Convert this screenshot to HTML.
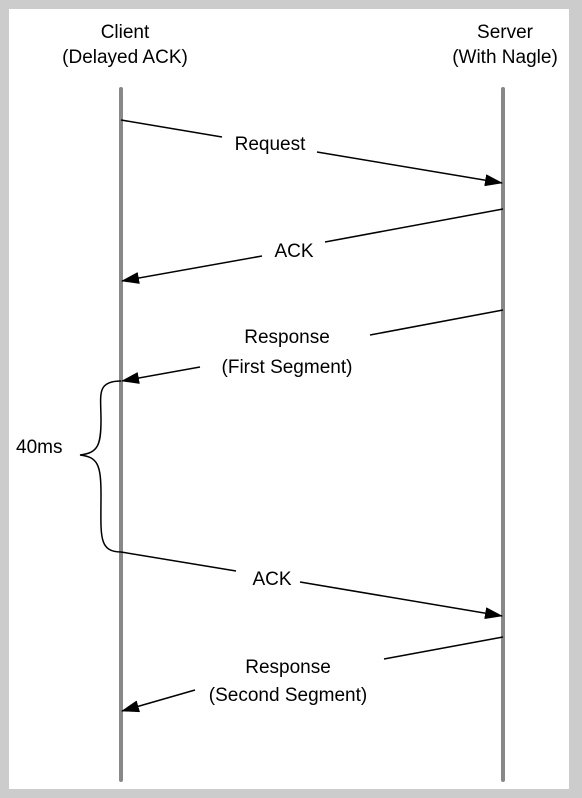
<!DOCTYPE html>
<html><head><style>
html,body{margin:0;padding:0;background:#ccc;}
body{width:582px;height:798px;position:relative;overflow:hidden;font-family:"Liberation Sans",Arial,sans-serif;}
.page{position:absolute;left:9px;top:9px;width:560px;height:780px;background:#fff;}
</style></head><body>
<div class="page"></div>
<svg width="582" height="798" style="position:absolute;left:0;top:0" font-family="Liberation Sans, Arial, sans-serif" font-size="19" fill="#000">
<defs><marker id="a" markerWidth="18" markerHeight="12" refX="17" refY="6" orient="auto" markerUnits="userSpaceOnUse"><path d="M0,0 L18,6 L0,12 Z" fill="#000"/></marker></defs>
<g text-anchor="middle">
<text x="125" y="38">Client</text>
<text x="125" y="63">(Delayed ACK)</text>
<text x="505" y="38">Server</text>
<text x="505" y="63">(With Nagle)</text>
</g>
<line x1="121" y1="89" x2="121" y2="780" stroke="#888" stroke-width="4" stroke-linecap="round"/>
<line x1="503" y1="89" x2="503" y2="780" stroke="#888" stroke-width="4" stroke-linecap="round"/>
<g stroke="#000" stroke-width="1.5" fill="none">
<line x1="121" y1="120" x2="222" y2="137"/>
<line x1="317" y1="152" x2="502" y2="183" marker-end="url(#a)"/>
<line x1="503" y1="209" x2="325" y2="242"/>
<line x1="262" y1="256" x2="122" y2="281" marker-end="url(#a)"/>
<line x1="503" y1="310" x2="370" y2="335"/>
<line x1="200" y1="367" x2="122" y2="381" marker-end="url(#a)"/>
<line x1="121" y1="552" x2="236" y2="571"/>
<line x1="300" y1="582" x2="502" y2="616" marker-end="url(#a)"/>
<line x1="503" y1="637" x2="384" y2="659"/>
<line x1="195" y1="690" x2="122" y2="711" marker-end="url(#a)"/>
<path d="M121,381 C96,381 101,395 101,420 C101,445 98,453 80,455 C98,457 101,465 101,495 C101,535 98,552 121,552"/>
</g>
<g text-anchor="middle">
<text x="270" y="150">Request</text>
<text x="294" y="257">ACK</text>
<text x="287" y="343">Response</text>
<text x="287" y="373">(First Segment)</text>
<text x="272" y="585">ACK</text>
<text x="288" y="673">Response</text>
<text x="288" y="701">(Second Segment)</text>
</g>
<text x="16" y="453">40ms</text>
</svg>
</body></html>
